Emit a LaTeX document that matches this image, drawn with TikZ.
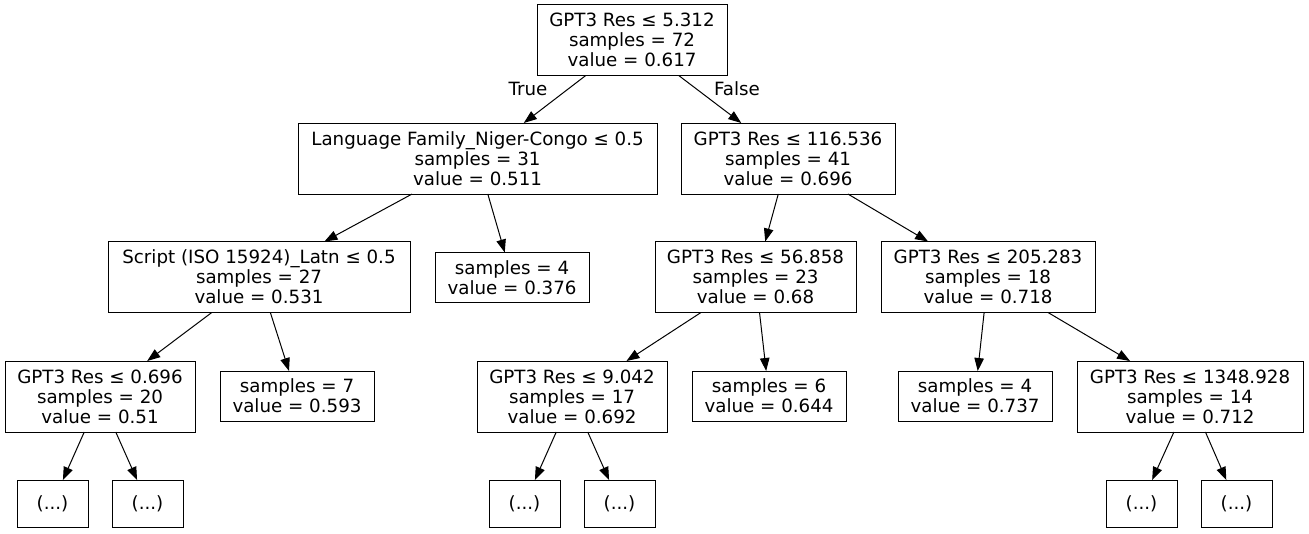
\documentclass[tikz,border=0pt]{standalone}
\usepackage{fontspec}
\setmainfont{DejaVu Sans}
\usetikzlibrary{arrows.meta}
\begin{document}
\begin{tikzpicture}[x=1pt,y=-1pt,
  box/.style={draw, line width=1pt, font=\fontsize{18.25}{20}\selectfont, align=center, inner xsep=11pt, inner ysep=0pt, outer sep=0pt},
  tri/.style={box, minimum height=71pt},
  two/.style={box, minimum height=50pt},
  dots/.style={box, minimum width=71pt, minimum height=47pt},
  lbl/.style={font=\fontsize{18.25}{20}\selectfont, inner sep=0pt},
  edge/.style={line width=1pt, -{Triangle[length=13pt,width=9.5pt]}}]
\useasboundingbox (0,0) rectangle (1309,533);
\fill[white] (0,0) rectangle (1309,533);

\node[tri, minimum width=190pt] (root) at (632,40) {GPT3 Res ≤ 5.312\\samples = 72\\value = 0.617};
\node[tri, minimum width=359pt] (A) at (477.5,158.5) {Language Family\_Niger-Congo ≤ 0.5\\samples = 31\\value = 0.511};
\node[tri, minimum width=214pt] (B) at (788,158.5) {GPT3 Res ≤ 116.536\\samples = 41\\value = 0.696};
\node[tri, minimum width=302pt] (C) at (259,277) {Script (ISO 15924)\_Latn ≤ 0.5\\samples = 27\\value = 0.531};
\node[two, minimum width=154pt] (D) at (512,277.5) {samples = 4\\value = 0.376};
\node[tri, minimum width=201pt] (E) at (755.5,277) {GPT3 Res ≤ 56.858\\samples = 23\\value = 0.68};
\node[tri, minimum width=214pt] (F) at (988,277) {GPT3 Res ≤ 205.283\\samples = 18\\value = 0.718};
\node[tri, minimum width=190pt] (G) at (100,396.5) {GPT3 Res ≤ 0.696\\samples = 20\\value = 0.51};
\node[two, minimum width=154pt] (H) at (297,396) {samples = 7\\value = 0.593};
\node[tri, minimum width=190pt] (I) at (572,396.5) {GPT3 Res ≤ 9.042\\samples = 17\\value = 0.692};
\node[two, minimum width=154pt] (J) at (769,396) {samples = 6\\value = 0.644};
\node[two, minimum width=154pt] (K) at (975,396) {samples = 4\\value = 0.737};
\node[tri, minimum width=226pt] (L) at (1190,396.5) {GPT3 Res ≤ 1348.928\\samples = 14\\value = 0.712};
\node[dots] (G1) at (52.5,503.5) {(...)};
\node[dots] (G2) at (147.5,503.5) {(...)};
\node[dots] (I1) at (524.5,503.5) {(...)};
\node[dots] (I2) at (619.5,503.5) {(...)};
\node[dots] (L1) at (1141.5,503.5) {(...)};
\node[dots] (L2) at (1236.5,503.5) {(...)};

\node[lbl] (tlab) at (528,89) {True};
\node[lbl] (flab) at (737,89) {False};

\draw[edge] (root) -- (A);
\draw[edge] (root) -- (B);
\draw[edge] (A) -- (C);
\draw[edge] (A) -- (D);
\draw[edge] (B) -- (E);
\draw[edge] (B) -- (F);
\draw[edge] (C) -- (G);
\draw[edge] (C) -- (H);
\draw[edge] (E) -- (I);
\draw[edge] (E) -- (J);
\draw[edge] (F) -- (K);
\draw[edge] (F) -- (L);
\draw[edge] (G) -- (G1);
\draw[edge] (G) -- (G2);
\draw[edge] (I) -- (I1);
\draw[edge] (I) -- (I2);
\draw[edge] (L) -- (L1);
\draw[edge] (L) -- (L2);
\end{tikzpicture}
\end{document}
